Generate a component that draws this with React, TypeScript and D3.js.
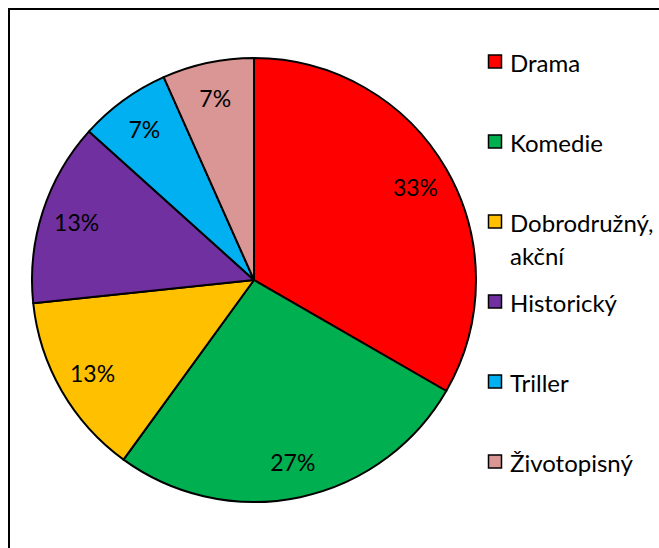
import React from "react";
import * as d3 from "d3";

const categories = ["Drama", "Komedie", "Dobrodružný, akční", "Historický", "Triller", "Životopisný"];
const legendLines = [["Drama"], ["Komedie"], ["Dobrodružný,", "akční"], ["Historický"], ["Triller"], ["Životopisný"]];
const values = [5, 4, 2, 2, 1, 1];
const colors = ["#FF0000", "#00B050", "#FFC000", "#7030A0", "#00B0F0", "#D99694"];

const W = 659;
const H = 548;
const cx = 254;
const cy = 280;
const R = 222;
const FONT = "Lato, Carlito, 'Open Sans', sans-serif";

export default function App() {
  const total = d3.sum(values);
  const pie = d3.pie<number>().sort(null).value((d) => d);
  const arcs = pie(values);
  const arc = d3.arc<d3.PieArcDatum<number>>().innerRadius(0).outerRadius(R);
  const labelArc = d3.arc<d3.PieArcDatum<number>>().innerRadius(R * 0.84).outerRadius(R * 0.84);
  const fmt = d3.format(".0%");

  const legendY = d3.scalePoint<number>().domain(d3.range(categories.length)).range([62, 462]);

  return (
    <svg width={W} height={H} style={{ position: "absolute", left: 0, top: 0, background: "#fff" }}>
      <rect x={9} y={9} width={700} height={600} fill="#fff" stroke="#000" strokeWidth={2} />
      <g transform={`translate(${cx},${cy})`}>
        {arcs.map((a, i) => (
          <path key={i} d={arc(a) || ""} fill={colors[i]} stroke="#000" strokeWidth={2} strokeLinejoin="round" />
        ))}
        {arcs.map((a, i) => {
          const [x, y] = labelArc.centroid(a);
          return (
            <text key={"l" + i} x={x} y={y} textAnchor="middle" dominantBaseline="central"
              fontFamily={FONT} fontSize={23} fill="#000">
              {fmt(values[i] / total)}
            </text>
          );
        })}
      </g>
      <g>
        {categories.map((c, i) => {
          const y = legendY(i) as number;
          return (
            <g key={c}>
              <rect x={488.5} y={y - 7} width={13} height={13} fill={colors[i]} stroke="#000" strokeWidth={1.5} />
              {legendLines[i].map((line, j) => (
                <text key={j} x={510} y={y + j * 33} dominantBaseline="central"
                  fontFamily={FONT} fontSize={24} fill="#000">
                  {line}
                </text>
              ))}
            </g>
          );
        })}
      </g>
    </svg>
  );
}
